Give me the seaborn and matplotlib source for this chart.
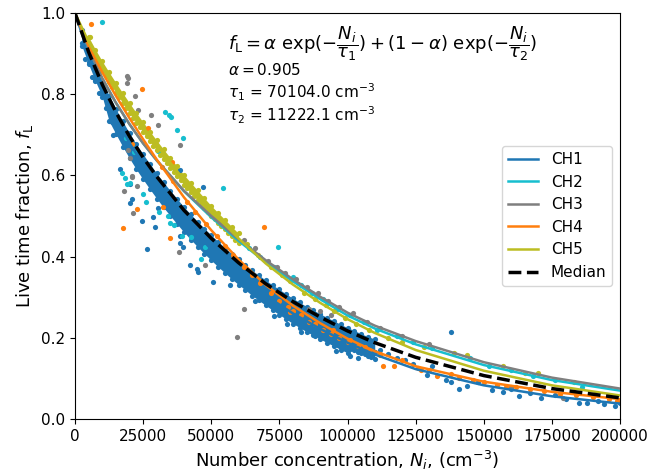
import matplotlib
matplotlib.use('Agg')
import matplotlib.pyplot as plt
import seaborn as sns
import numpy as np
import pandas as pd

# fit shown in the annotation
alpha_fit = 0.905
tau1_fit = 70104.0
tau2_fit = 11222.1

channels = ['CH1', 'CH2', 'CH3', 'CH4', 'CH5']
colors = ['#1f77b4', '#17becf', '#7f7f7f', '#ff7f0e', '#bcbd22']

# fitted curves (N in thousands of cm^-3)
curve_n = [0, 5, 10, 15, 20, 25, 30, 40, 50, 60, 70, 80, 90, 100, 110, 125, 150, 175, 200]
curve_ch1 = [1.0, .899, .814, .743, .680, .626, .577, .490, .418, .357, .304, .260, .222, .188, .159, .123, .083, .056, .038]
curve_ch2 = [1.0, .912, .839, .779, .726, .679, .637, .561, .497, .439, .386, .339, .295, .255, .223, .184, .133, .096, .070]
curve_ch3 = [1.0, .912, .839, .779, .726, .679, .637, .562, .500, .443, .391, .344, .301, .262, .230, .192, .140, .102, .075]
curve_ch4 = [1.0, .919, .854, .796, .741, .689, .639, .546, .465, .393, .330, .279, .236, .198, .167, .130, .092, .067, .049]
curve_ch5 = [1.0, .929, .869, .816, .766, .719, .674, .589, .513, .445, .383, .331, .286, .246, .212, .170, .119, .083, .058]
curve_median = [1.0, .904, .824, .756, .696, .644, .597, .514, .445, .385, .333, .289, .251, .217, .188, .152, .107, .075, .052]

# CH1 dense band of measurements
ch1_band_n_a = [2.5, 5, 7.5, 10, 12.5, 15, 17.5, 20, 22.5, 25, 27.5, 30, 32.5, 35, 37.5, 40, 42.5, 45, 47.5, 50,
                52.5, 55, 57.5, 60, 62.5, 65, 67.5, 70, 72.5, 75, 77.5, 80, 82.5, 85, 87.5, 90, 92.5, 95, 97.5, 100,
                102.5, 105, 107.5, 110]
ch1_band_top = [.957, .912, .870, .832, .796, .764, .733, .704, .677, .652, .628, .605, .583, .562, .542, .522, .504, .486,
                .469, .453, .437, .422, .407, .393, .380, .366, .354, .342, .330, .319, .308, .297, .287, .277, .268, .259,
                .250, .242, .233, .225, .218, .210, .203, .197]
ch1_band_mid = [.925, .880, .838, .800, .764, .732, .701, .672, .645, .620, .596, .573, .551, .530, .510, .490, .472, .454,
                .437, .421, .405, .390, .375, .361, .348, .334, .322, .310, .298, .287, .276, .265, .255, .245, .236, .227,
                .218, .210, .201, .193, .186, .178, .171, .165]
ch1_band_edge_low = [.919, .874, .832, .794, .734, .702, .671, .642, .615, .590, .566, .543, .521, .500, .480, .460, .442,
                     .424, .407, .391, .375, .360, .345, .331, .318, .304, .292, .280, .268, .257, .246, .235, .225, .215,
                     .206, .197, .188, .180, .171, .163, .170, .162, .155, .149]
ch1_band_n_b = [3.75, 6.25, 8.75, 11.25, 13.75, 16.25, 18.75, 21.25, 23.75, 26.25, 28.75, 31.25, 33.75, 36.25, 38.75,
                41.25, 43.75, 46.25, 48.75, 51.25, 53.75, 56.25, 58.75, 61.25, 63.75, 66.25, 68.75, 71.25, 73.75, 76.25,
                78.75, 81.25, 83.75, 86.25, 88.75, 91.25, 93.75, 96.25, 98.75, 101.25, 103.75, 106.25, 108.75]
ch1_band_upper = [.919, .875, .835, .798, .764, .733, .703, .675, .649, .624, .601, .578, .557, .536, .516, .497, .479,
                  .462, .445, .429, .414, .399, .384, .371, .357, .344, .332, .320, .309, .298, .287, .276, .266, .257,
                  .248, .239, .230, .222, .213, .206, .198, .191, .184]
ch1_band_lower = [.887, .843, .803, .766, .732, .701, .671, .643, .617, .592, .569, .546, .525, .504, .484, .465, .447,
                  .430, .413, .397, .382, .367, .352, .339, .325, .312, .300, .288, .277, .266, .255, .244, .234, .225,
                  .216, .207, .198, .190, .181, .174, .166, .159, .152]
ch1_pts_n = [16.5, 20.2, 20.8, 20.2, 24.5, 29.4, 28.7, 38.5, 38.5, 39.7, 26.3, 42.2, 44.7, 45.3, 50.8, 47.1, 38.5, 73,
             77.7, 95.8, 112, 115, 118, 121, 124, 129, 131, 136, 138, 141, 144, 148, 153, 157, 160, 163, 167, 171, 176,
             180, 185, 188, 192, 194, 198, 200, 138, 14, 30.5, 57, 66, 83, 88, 101, 104]
ch1_pts_f = [.615, .580, .541, .533, .488, .472, .498, .451, .434, .423, .418, .379, .369, .361, .338, .571, .613, .254,
             .233, .168, .170, .160, .150, .145, .135, .108, .130, .096, .092, .073, .082, .090, .071, .067, .075, .057,
             .065, .053, .058, .050, .040, .040, .045, .036, .032, .040, .215, .700, .520, .330, .290, .215, .205, .155,
             .150]

ch2_pts_n = [9.8, 33.0, 34.5, 35.1, 37.3, 39.6, 54.3, 74.5, 17.1, 18.3, 19.0, 20.2, 24.8, 25.9, 30.9, 34.2, 34.9, 36.3,
             39.3, 42.6, 46.2, 47.7, 18.6, 20.8, 30.3, 21.7, 64, 68, 73, 77, 80, 83, 87, 91, 96, 101, 106, 111, 118, 124,
             131, 145, 152, 160, 168, 176, 186]
ch2_pts_f = [.979, .756, .750, .743, .711, .691, .569, .424, .605, .593, .580, .581, .553, .534, .511, .501, .484, .479,
             .451, .449, .395, .424, .691, .677, .660, .658, .420, .400, .375, .355, .350, .330, .310, .295, .270, .255,
             .240, .220, .205, .190, .175, .150, .130, .120, .105, .095, .080]

ch3_pts_n = [19.0, 19.6, 19.2, 22.0, 23.2, 27.9, 30.6, 38.6, 19.6, 20.3, 21.0, 20.8, 18.0, 22.9, 21.4, 38.2, 47.7, 62.0,
             59.4, 62, 66, 71, 74, 77, 81, 85, 89, 93, 97, 102, 107, 112, 120, 130, 86, 90, 94, 160, 179]
ch3_pts_f = [.846, .839, .828, .796, .760, .750, .723, .675, .663, .642, .599, .597, .562, .575, .508, .411, .379, .272,
             .202, .440, .420, .390, .375, .360, .345, .325, .310, .290, .275, .260, .240, .225, .205, .185, .270, .265,
             .255, .080, .052]

ch4_pts_n = [5.9, 24.5, 26.9, 35.5, 69.4, 17.5, 22.9, 32.4, 34.7, 20.8, 113, 127, 32, 36, 41, 44, 48, 52, 55, 58, 62, 65,
             68, 72, 75, 78, 80, 83, 86, 88, 91, 94, 97, 100, 104, 108, 112, 117, 120, 126, 130, 133, 138, 141, 146, 150,
             155, 158, 162, 167, 172, 178, 184, 190, 196, 199, 78.9, 94.8, 100.9, 106.4, 111.9]
ch4_pts_f = [.972, .814, .716, .634, .474, .471, .518, .522, .447, .677, .130, .120, .620, .585, .535, .510, .480, .450,
             .425, .405, .375, .355, .335, .310, .290, .275, .265, .255, .240, .235, .220, .210, .200, .190, .180, .170,
             .160, .130, .145, .125, .120, .105, .110, .100, .095, .090, .085, .080, .080, .075, .070, .062, .060, .055,
             .050, .045, .264, .219, .195, .178, .158]

ch5_band_n_a = [5, 7.5, 10, 12.5, 15, 17.5, 20, 22.5, 25, 27.5, 30, 32.5, 35, 37.5, 40, 42.5, 45, 47.5, 50, 52.5, 55,
                57.5, 60]
ch5_band_upper = [.941, .910, .881, .854, .828, .803, .778, .754, .731, .708, .686, .664, .643, .622, .601, .582, .563,
                  .544, .525, .508, .491, .474, .457]
ch5_band_edge_low = [.917, .886, .857, .830, .804, .779, .754, .730, .707, .684, .662, .640, .619, .598, .577, .558, .539,
                     .520, .501, .484, .467, .450, .433]
ch5_band_n_b = [6.25, 8.75, 11.25, 13.75, 16.25, 18.75, 21.25, 23.75, 26.25, 28.75, 31.25, 33.75, 36.25, 38.75, 41.25,
                43.75, 46.25, 48.75, 51.25, 53.75, 56.25, 58.75]
ch5_band_lower = [.902, .872, .844, .817, .792, .767, .742, .719, .696, .673, .651, .630, .609, .588, .568, .549, .530,
                  .511, .493, .476, .459, .442]
ch5_pts_n = [5.5, 63, 67, 72, 76, 79, 84, 88, 92, 95, 99, 103, 108, 115, 120, 128, 139, 144, 157, 165, 170, 183]
ch5_pts_f = [.941, .430, .405, .375, .355, .340, .310, .295, .280, .265, .250, .235, .220, .200, .190, .178, .162, .158,
             .131, .114, .113, .090]


def points(channel, n, f):
    return pd.DataFrame({'N': np.array(n) * 1000, 'f': f, 'channel': channel})


scatter = pd.concat([
    points('CH1', ch1_band_n_a, ch1_band_top),
    points('CH1', ch1_band_n_a, ch1_band_mid),
    points('CH1', ch1_band_n_a, ch1_band_edge_low),
    points('CH1', ch1_band_n_b, ch1_band_upper),
    points('CH1', ch1_band_n_b, ch1_band_lower),
    points('CH1', ch1_pts_n, ch1_pts_f),
    points('CH2', ch2_pts_n, ch2_pts_f),
    points('CH3', ch3_pts_n, ch3_pts_f),
    points('CH4', ch4_pts_n, ch4_pts_f),
    points('CH5', ch5_band_n_a, ch5_band_upper),
    points('CH5', ch5_band_n_a, ch5_band_edge_low),
    points('CH5', ch5_band_n_b, ch5_band_lower),
    points('CH5', ch5_pts_n, ch5_pts_f),
], ignore_index=True)

curves = pd.concat([
    points(ch, curve_n, vals)
    for ch, vals in zip(channels, [curve_ch1, curve_ch2, curve_ch3, curve_ch4, curve_ch5])
], ignore_index=True)

palette = dict(zip(channels, colors))

fig, ax = plt.subplots(figsize=(6.55, 4.76), dpi=100)
fig.subplots_adjust(left=0.1145, right=0.9466, bottom=0.1197, top=0.9727)

# where the points are too dense to separate, shade between the band edges
ax.fill_between(np.array(ch1_band_n_a) * 1000, ch1_band_edge_low, ch1_band_top,
                color=palette['CH1'], lw=0, zorder=2)
ax.fill_between(np.array(ch5_band_n_a) * 1000, ch5_band_edge_low, ch5_band_upper,
                color=palette['CH5'], lw=0, zorder=2)

for ch in channels:
    sns.scatterplot(data=scatter[scatter.channel == ch], x='N', y='f', color=palette[ch], s=14,
                    linewidth=0, legend=False, ax=ax, zorder=2)

sns.lineplot(data=curves, x='N', y='f', hue='channel', palette=palette, linewidth=1.8, ax=ax, zorder=3)
sns.lineplot(x=np.array(curve_n) * 1000, y=curve_median, color='k', linestyle='--', linewidth=2.5,
             label='Median', ax=ax, zorder=4)

handles, labels = ax.get_legend_handles_labels()
keep = [i for i, l in enumerate(labels) if l in channels + ['Median']]
ax.legend([handles[i] for i in keep], [labels[i] for i in keep], loc='center right', fontsize=11)

ax.text(0.28, 0.925, r'$f_\mathrm{L} = \alpha\ \exp(-\dfrac{N_i}{\tau_1}) + (1-\alpha)\ \exp(-\dfrac{N_i}{\tau_2})$',
        transform=ax.transAxes, fontsize=13, va='center')
ax.text(0.28, 0.86, r'$\alpha = $' + f'{alpha_fit}', transform=ax.transAxes, fontsize=11, va='center')
ax.text(0.28, 0.805, r'$\tau_1$ = ' + f'{tau1_fit:.1f}' + r' cm$^{-3}$', transform=ax.transAxes, fontsize=11, va='center')
ax.text(0.28, 0.749, r'$\tau_2$ = ' + f'{tau2_fit:.1f}' + r' cm$^{-3}$', transform=ax.transAxes, fontsize=11, va='center')

ax.set_xlim(0, 200000)
ax.set_ylim(0, 1.0)
ax.set_xticks(np.arange(0, 200001, 25000))
ax.tick_params(labelsize=11)
ax.set_xlabel(r'Number concentration, $N_i$, (cm$^{-3}$)', fontsize=13)
ax.set_ylabel(r'Live time fraction, $f_\mathrm{L}$', fontsize=13)

fig.savefig('out.png', dpi=100)
